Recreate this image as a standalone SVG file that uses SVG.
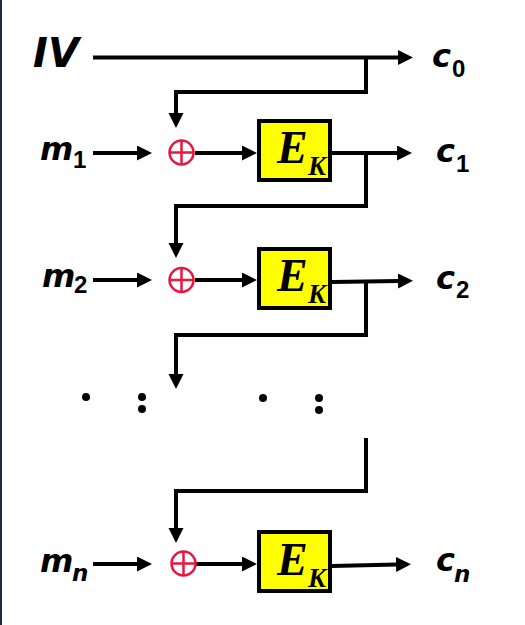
<svg xmlns="http://www.w3.org/2000/svg" width="525" height="625" viewBox="0 0 525 625">
<style>
.ln{fill:none;stroke:#000;stroke-width:4;stroke-linejoin:miter}
.lbl{font-family:"DejaVu Sans",sans-serif;font-weight:bold;font-style:oblique;fill:#000}
.sub{font-family:"Liberation Sans",Arial,sans-serif;font-weight:bold;font-size:24px;fill:#000}
.subi{font-family:"DejaVu Sans",sans-serif;font-weight:bold;font-style:oblique;font-size:23px;fill:#000}
.box{fill:#ffff00;stroke:#000;stroke-width:4}
.e{font-family:"Liberation Serif","Times New Roman",serif;font-weight:bold;font-style:italic;fill:#000}
.xor{fill:none;stroke:#e8173f;stroke-width:2.5}
</style>
<defs>
<marker id="ah" markerUnits="userSpaceOnUse" markerWidth="16" markerHeight="16" refX="1" refY="7.5" orient="auto">
<path d="M0,0 L15,7.5 L0,15 z" fill="#000"/>
</marker>
</defs>
<rect x="0" y="0" width="525" height="625" fill="#fff"/>
<rect x="0" y="0" width="2" height="625" fill="#1f2a44"/>

<g id="connectors">
<line class="ln" x1="93" y1="57.5" x2="399" y2="57.5" marker-end="url(#ah)"/>
<path class="ln" d="M366,57.5 V92 H176 V114" marker-end="url(#ah)"/>
<line class="ln" x1="93" y1="153" x2="138" y2="153" marker-end="url(#ah)"/>
<line class="ln" x1="195" y1="153" x2="243" y2="153" marker-end="url(#ah)"/>
<line class="ln" x1="332" y1="153" x2="398" y2="153" marker-end="url(#ah)"/>
<path class="ln" d="M366,153 V206 H176 V244" marker-end="url(#ah)"/>
<line class="ln" x1="93" y1="280" x2="138" y2="280" marker-end="url(#ah)"/>
<line class="ln" x1="195" y1="280" x2="243" y2="280" marker-end="url(#ah)"/>
<line class="ln" x1="332" y1="282" x2="399" y2="281" marker-end="url(#ah)"/>
<path class="ln" d="M366,281.5 V335 H176 V375" marker-end="url(#ah)"/>
<path class="ln" d="M366,438 V491 H176 V529" marker-end="url(#ah)"/>
<line class="ln" x1="93" y1="564" x2="138" y2="564" marker-end="url(#ah)"/>
<line class="ln" x1="196" y1="564" x2="243" y2="564" marker-end="url(#ah)"/>
<line class="ln" x1="332" y1="566" x2="397" y2="564.5" marker-end="url(#ah)"/>
</g>

<g id="iv"><text class="lbl" x="33" y="67" font-size="40">IV</text></g>

<g id="m1"><text class="lbl" x="40" y="160" font-size="32">m</text><text class="sub" x="73" y="168">1</text></g>
<g id="m2"><text class="lbl" x="42" y="287" font-size="32">m</text><text class="sub" x="74" y="293">2</text></g>
<g id="mn"><text class="lbl" x="40" y="572" font-size="32">m</text><text class="subi" x="72" y="581">n</text></g>

<g id="xor1"><circle class="xor" cx="181.5" cy="152.5" r="12"/><path class="xor" d="M169.5,152.5 H193.5 M181.5,140.5 V164.5"/></g>
<g id="xor2"><circle class="xor" cx="181.5" cy="280" r="12"/><path class="xor" d="M169.5,280 H193.5 M181.5,268 V292"/></g>
<g id="xorn"><circle class="xor" cx="183.5" cy="563.5" r="12"/><path class="xor" d="M171.5,563.5 H195.5 M183.5,551.5 V575.5"/></g>

<g id="ek1"><rect class="box" x="259" y="121" width="71" height="59"/><text class="e" x="277" y="163" font-size="46">E</text><text class="e" x="308" y="175" font-size="27">K</text></g>
<g id="ek2"><rect class="box" x="259" y="249" width="71" height="59"/><text class="e" x="277" y="291" font-size="46">E</text><text class="e" x="308" y="303" font-size="27">K</text></g>
<g id="ekn"><rect class="box" x="259" y="532" width="71" height="59"/><text class="e" x="277" y="575" font-size="46">E</text><text class="e" x="308" y="587" font-size="27">K</text></g>

<g id="c0"><text class="lbl" x="432" y="67" font-size="32">c</text><text class="sub" x="452" y="77">0</text></g>
<g id="c1"><text class="lbl" x="436" y="162" font-size="32">c</text><text class="sub" x="456" y="172">1</text></g>
<g id="c2"><text class="lbl" x="436" y="289" font-size="32">c</text><text class="sub" x="456" y="298">2</text></g>
<g id="cn"><text class="lbl" x="436" y="571" font-size="32">c</text><text class="subi" x="454" y="582">n</text></g>

<g id="dots" fill="#000">
<circle cx="86" cy="397" r="4"/>
<circle cx="142" cy="397" r="4"/><circle cx="142" cy="409" r="4"/>
<circle cx="263" cy="398" r="4"/>
<circle cx="319" cy="398" r="4"/><circle cx="319" cy="410" r="4"/>
</g>
</svg>
